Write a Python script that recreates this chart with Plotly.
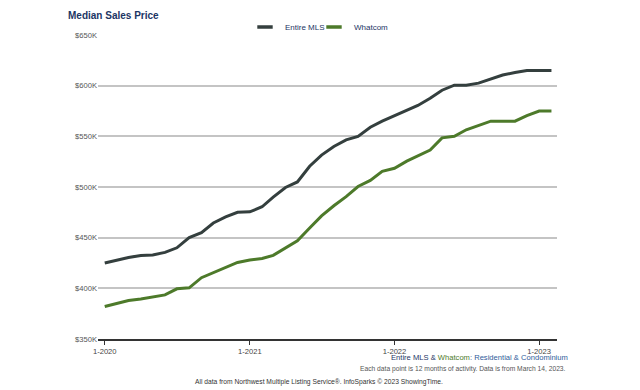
import plotly.graph_objects as go

months = [f"{y}-{m:02d}-01" for y in range(2020, 2024) for m in range(1, 13)][:38]

entire_mls = [425, 428, 430.5, 432.5, 433, 435.5, 440, 450, 455, 464.5, 470.5, 475,
              475.5, 480.5, 490, 499.5, 505, 520.5, 531.5, 540, 546.5, 550, 559, 565,
              570.5, 575.5, 580.5, 587.5, 595.5, 600.5, 600.5, 602.5, 606.5, 610.5, 613, 615,
              615, 615]
whatcom = [382, 385.5, 388, 389.5, 391.5, 393.5, 399.5, 400.5, 410.5, 415.5, 420.5, 425.5,
           428, 429.5, 432.5, 439.5, 447, 459.5, 471.5, 481.5, 490.5, 500.5, 506.5, 515.5,
           518.5, 525.5, 530.5, 536.5, 548.5, 550, 556.5, 560.5, 565, 565, 565, 570.5,
           575, 575]

y_ticks = [350, 400, 450, 500, 550, 600, 650]
y_tick_labels = ["$350K", "$400K", "$450K", "$500K", "$550K", "$600K", "$650K"]
x_ticks = ["2020-01-01", "2021-01-01", "2022-01-01", "2023-01-01"]
x_tick_labels = ["1-2020", "1-2021", "1-2022", "1-2023"]

FONT = "Liberation Sans, Arial, sans-serif"
DARK = "#343f3e"
GREEN = "#4d7a2a"
NAVY = "#1c3564"

L, R, T, B = 98, 83, 35, 51
PW, PH = 640 - L - R, 390 - T - B

fig = go.Figure()
fig.add_trace(go.Scatter(x=months, y=[v * 1000 for v in entire_mls], mode="lines",
                         name="Entire MLS", line=dict(color=DARK, width=3), showlegend=False))
fig.add_trace(go.Scatter(x=months, y=[v * 1000 for v in whatcom], mode="lines",
                         name="Whatcom", line=dict(color=GREEN, width=3), showlegend=False))
# legend entries (short thick line symbols), one legend box per entry
for name, col, lg in [("Entire MLS", DARK, "legend"), ("Whatcom", GREEN, "legend2")]:
    fig.add_trace(go.Scatter(x=[None], y=[None], mode="markers", name=name, legend=lg,
                             marker=dict(symbol="line-ew", size=11, color=col,
                                         line=dict(color=col, width=3.5))))

legend_common = dict(orientation="h", xanchor="left", y=1 + 8 / PH, yanchor="middle",
                     font=dict(size=8, color=NAVY), itemwidth=30,
                     bgcolor="rgba(0,0,0,0)")

fig.update_layout(
    width=640, height=390,
    margin=dict(l=L, r=R, t=T, b=B),
    paper_bgcolor="white", plot_bgcolor="white",
    font=dict(family=FONT, size=8, color="#555555"),
    showlegend=True,
    legend=dict(x=(245 - L) / PW, **legend_common),
    legend2=dict(x=(314 - L) / PW, **legend_common),
    title=dict(text="<b>Median Sales Price</b>", x=68 / 640, xanchor="left",
               y=1 - 15 / 390, yanchor="middle",
               font=dict(size=10, color=NAVY, family=FONT)),
)

fig.update_xaxes(
    type="date",
    range=["2019-12-15", "2023-02-15"],
    tickvals=x_ticks, ticktext=x_tick_labels,
    showgrid=False, zeroline=False,
    showline=True, linecolor="#333333", linewidth=2,
    ticks="outside", ticklen=4, tickcolor="#333333", tickwidth=1,
    tickfont=dict(size=7.6, color="#444444"),
)
fig.update_yaxes(
    range=[350000, 650000],
    tickvals=[v * 1000 for v in y_ticks], ticktext=y_tick_labels,
    showgrid=True, gridcolor="#c4c4c4", gridwidth=1.5,
    zeroline=False, showline=False,
    ticks="", tickfont=dict(size=7.6, color="#555555"),
)

fig.add_annotation(
    text=(f"<span style='color:{NAVY}'>Entire MLS</span>"
          f"<span style='color:{NAVY}'> &amp; </span>"
          f"<span style='color:{GREEN}'>Whatcom</span>"
          f"<span style='color:#2f5d9a'>: Residential &amp; Condominium</span>"),
    xref="paper", yref="paper", x=(570 - L) / PW, xanchor="right",
    y=-18 / PH, yanchor="middle", showarrow=False,
    font=dict(size=7.6, family=FONT),
)
fig.add_annotation(
    text="Each data point is 12 months of activity. Data is from March 14, 2023.",
    xref="paper", yref="paper", x=(568 - L) / PW, xanchor="right",
    y=-29.5 / PH, yanchor="middle", showarrow=False,
    font=dict(size=6.7, color="#555555", family=FONT),
)
fig.add_annotation(
    text="All data from Northwest Multiple Listing Service®. InfoSparks © 2023 ShowingTime.",
    xref="paper", yref="paper", x=(318.5 - L) / PW, xanchor="center",
    y=-43 / PH, yanchor="middle", showarrow=False,
    font=dict(size=6.7, color="#333333", family=FONT),
)

fig.write_html("out.html", config={"displayModeBar": False},
               post_script="document.body.style.margin='0';")
